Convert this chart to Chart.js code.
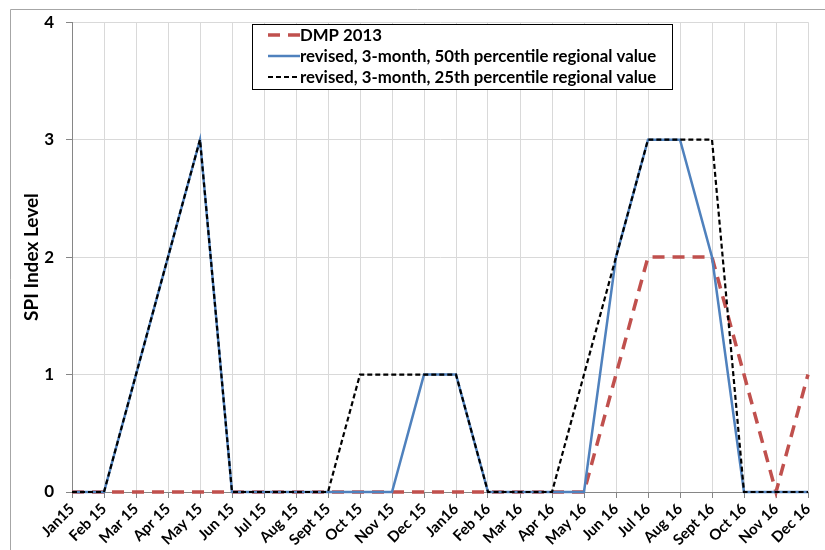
<!DOCTYPE html>
<html><head><meta charset="utf-8">
<script src="https://cdn.jsdelivr.net/npm/chart.js@4.4.1/dist/chart.umd.min.js"></script>
<style>html,body{margin:0;padding:0;background:#fff}#wrap{width:825px;height:550px;position:relative}</style>
</head><body><div id="wrap"><canvas id="c" width="825" height="550"></canvas></div>
<script>
const categories = ["Jan15","Feb 15","Mar 15","Apr 15","May 15","Jun 15","Jul 15","Aug 15","Sept 15","Oct 15","Nov 15","Dec 15","Jan16","Feb 16","Mar 16","Apr 16","May 16","Jun 16","Jul 16","Aug 16","Sept 16","Oct 16","Nov 16","Dec 16"];
const dmp2013 = [0,0,0,0,0,0,0,0,0,0,0,0,0,0,0,0,0,1,2,2,2,1,0,1];
const p50 = [0,0,1,2,3,0,0,0,0,0,0,1,1,0,0,0,0,2,3,3,2,0,0,0];
const p25 = [0,0,1,2,3,0,0,0,0,1,1,1,1,0,0,0,1,2,3,3,3,0,0,0];
const seriesLabels = ["DMP 2013","revised, 3-month, 50th percentile regional value","revised, 3-month, 25th percentile regional value"];
const yTicks = [0,1,2,3,4];

const FONT = "Lato, 'Liberation Sans', sans-serif";

const framePlugin = {
  id: 'frame',
  beforeDraw(chart) {
    const ctx = chart.ctx;
    ctx.save();
    ctx.strokeStyle = '#a6a6a6';
    ctx.lineWidth = 1;
    ctx.beginPath();
    ctx.moveTo(10.5, 550); ctx.lineTo(10.5, 9.5); ctx.lineTo(825, 9.5);
    ctx.stroke();
    ctx.restore();
  }
};

const legendPlugin = {
  id: 'boxLegend',
  afterDraw(chart) {
    const ctx = chart.ctx;
    const ds = chart.data.datasets;
    const x0 = 252, y0 = 24, w = 420, h = 65;
    ctx.save();
    ctx.fillStyle = '#fff';
    ctx.fillRect(x0, y0, w, h);
    ctx.strokeStyle = '#000';
    ctx.lineWidth = 1;
    ctx.strokeRect(x0 + 0.5, y0 + 0.5, w, h);
    ctx.font = "bold 16.8px " + FONT;
    ctx.textBaseline = 'middle';
    ctx.fillStyle = '#000';
    const rows = [35, 56, 77];
    ds.forEach((d, i) => {
      const y = rows[i];
      ctx.save();
      ctx.strokeStyle = d.borderColor;
      ctx.lineWidth = d.borderWidth;
      ctx.setLineDash(d.borderDash || []);
      ctx.beginPath();
      ctx.moveTo(268, y); ctx.lineTo(300, y);
      ctx.stroke();
      ctx.restore();
      ctx.fillText(d.label, 300, y + 1);
    });
    ctx.restore();
  }
};

new Chart(document.getElementById('c'), {
  type: 'line',
  data: {
    labels: categories,
    datasets: [
      { label: seriesLabels[0], data: dmp2013, borderColor: '#c0504d', borderWidth: 3.5, borderDash: [12, 8], pointRadius: 0, tension: 0, fill: false, order: 3, clip: false },
      { label: seriesLabels[1], data: p50, borderColor: '#4f81bd', borderWidth: 2.5, pointRadius: 0, tension: 0, fill: false, order: 2, clip: false },
      { label: seriesLabels[2], data: p25, borderColor: '#000000', borderWidth: 2.2, borderDash: [5, 3], pointRadius: 0, tension: 0, fill: false, order: 1, clip: false }
    ]
  },
  options: {
    responsive: false,
    animation: false,
    layout: { padding: { left: 14, top: 22, right: 17, bottom: 0 } },
    plugins: { legend: { display: false }, tooltip: { enabled: false } },
    scales: {
      x: {
        offset: false,
        grid: { color: '#d9d9d9', tickColor: '#868686', tickLength: 6, drawTicks: true },
        border: { color: '#868686', width: 1 },
        ticks: { autoSkip: false, maxRotation: 45, minRotation: 45, color: '#000', font: { family: FONT, size: 15, weight: 'bold' }, padding: 2 },
        afterFit(s) { s.height = 58; }
      },
      y: {
        min: 0, max: 4,
        afterBuildTicks(s) { s.ticks = yTicks.map(v => ({ value: v })); },
        grid: { color: '#d9d9d9', tickColor: '#868686', tickLength: 6 },
        border: { color: '#868686', width: 1 },
        ticks: { color: '#000', font: { family: FONT, size: 17, weight: 'bold' }, padding: 12 },
        title: { display: true, text: 'SPI Index Level', color: '#000', font: { family: FONT, size: 19, weight: 'bold' }, padding: { top: 6, bottom: 4 } },
        afterFit(s) { s.width = 58; }
      }
    }
  },
  plugins: [framePlugin, legendPlugin]
});
</script></body></html>
